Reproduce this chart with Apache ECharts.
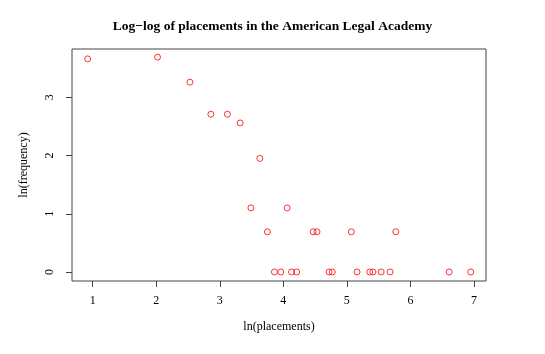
<!DOCTYPE html>
<html>
<head>
<meta charset="utf-8">
<script src="https://cdn.jsdelivr.net/npm/echarts@6/dist/echarts.min.js"></script>
<style>
  html, body { margin: 0; padding: 0; background: #fff; }
  #chart { width: 545px; height: 354px; }
</style>
</head>
<body>
<div id="chart"></div>
<script>
// ln(placements), ln(frequency) pairs
var lnPlacements = [0.92, 2.02, 2.53, 2.86, 3.12, 3.32, 3.63, 3.49, 4.06,
  3.75, 4.47, 4.53, 5.07, 5.77,
  3.86, 3.96, 4.13, 4.21, 4.72, 4.77, 5.16, 5.36, 5.41, 5.54, 5.68, 6.61, 6.95];
var lnFrequency = [3.66, 3.69, 3.26, 2.71, 2.71, 2.56, 1.95, 1.10, 1.10,
  0.69, 0.69, 0.69, 0.69, 0.69,
  0, 0, 0, 0, 0, 0, 0, 0, 0, 0, 0, 0, 0];
var xTicks = [1, 2, 3, 4, 5, 6, 7];
var yTicks = [0, 1, 2, 3];

var points = lnPlacements.map(function (x, i) { return [x, lnFrequency[i]]; });

var chart = echarts.init(document.getElementById('chart'));
var serif = '"Liberation Serif", "DejaVu Serif", serif';

chart.setOption({
  animation: false,
  title: {
    text: 'Log\u2212log of placements in the American Legal Academy',
    left: 'center',
    top: 15,
    textStyle: { fontFamily: serif, fontSize: 13.5, fontWeight: 'bold', color: '#000' }
  },
  grid: {
    left: 72, right: 59, top: 49, bottom: 73,
    show: true, borderColor: '#444', borderWidth: 1
  },
  xAxis: {
    type: 'value',
    min: 0.674, max: 7.19,
    name: 'ln(placements)',
    nameLocation: 'middle',
    nameGap: 40,
    nameTextStyle: { fontFamily: serif, fontSize: 12, color: '#000' },
    axisLine: { show: false, onZero: false },
    splitLine: { show: false },
    axisTick: { show: true, inside: false, length: 6, customValues: xTicks, lineStyle: { color: '#444' } },
    axisLabel: { customValues: xTicks, margin: 14, fontFamily: serif, fontSize: 12, color: '#000' }
  },
  yAxis: {
    type: 'value',
    min: -0.155, max: 3.83,
    name: 'ln(frequency)',
    nameLocation: 'middle',
    nameGap: 42,
    nameTextStyle: { fontFamily: serif, fontSize: 12, color: '#000' },
    axisLine: { show: false, onZero: false },
    splitLine: { show: false },
    axisTick: { show: true, inside: false, length: 6, customValues: yTicks, lineStyle: { color: '#444' } },
    axisLabel: { customValues: yTicks, rotate: 90, margin: 16, fontFamily: serif, fontSize: 12, color: '#000' }
  },
  series: [{
    type: 'scatter',
    data: points,
    symbol: 'circle',
    symbolSize: 6,
    itemStyle: { color: 'rgba(0,0,0,0)', borderColor: '#ff0000', borderWidth: 1 }
  }]
});
</script>
</body>
</html>
